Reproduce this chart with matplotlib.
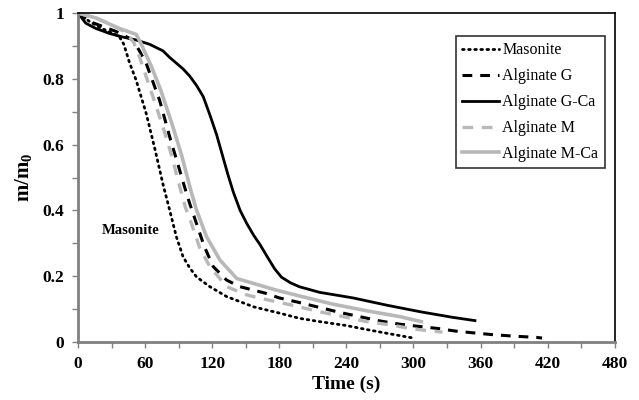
import matplotlib
matplotlib.use("Agg")
import matplotlib.pyplot as plt

# Mass loss curves m/m0 versus time (s)
masonite_t = [0, 10, 20, 30, 37, 41, 46, 52, 61, 69, 76, 82, 88, 94, 100, 106, 118, 133, 157, 180, 198, 216, 240, 258, 277, 290, 300]
masonite_v = [1.0, 0.975, 0.955, 0.94, 0.928, 0.905, 0.85, 0.796, 0.695, 0.584, 0.48, 0.401, 0.32, 0.259, 0.225, 0.198, 0.168, 0.138, 0.107, 0.088, 0.072, 0.062, 0.05, 0.038, 0.026, 0.018, 0.012]

alg_g_t = [0, 10, 19, 34, 49, 55, 61, 73, 82, 90, 95, 100, 107, 113, 121, 133, 145, 168, 180, 198, 216, 234, 252, 270, 288, 306, 322, 338, 356, 372, 389, 410, 415]
alg_g_v = [1.0, 0.975, 0.963, 0.944, 0.918, 0.885, 0.847, 0.735, 0.624, 0.533, 0.475, 0.42, 0.35, 0.29, 0.229, 0.188, 0.168, 0.148, 0.134, 0.12, 0.105, 0.09, 0.077, 0.064, 0.054, 0.047, 0.041, 0.033, 0.027, 0.022, 0.018, 0.014, 0.012]

alg_gca_t = [0, 7, 16, 28, 40, 52, 64, 76, 82, 94, 100, 106, 112, 118, 124, 129, 134, 139, 145, 151, 157, 163, 170, 176, 182, 190, 198, 216, 246, 276, 306, 335, 355]
alg_gca_v = [1.0, 0.969, 0.953, 0.938, 0.927, 0.918, 0.905, 0.885, 0.865, 0.83, 0.808, 0.78, 0.746, 0.69, 0.63, 0.57, 0.51, 0.455, 0.40, 0.36, 0.325, 0.295, 0.255, 0.222, 0.197, 0.18, 0.168, 0.151, 0.134, 0.112, 0.092, 0.075, 0.065]

alg_m_t = [0, 16, 30, 43, 50, 55, 67, 76, 84, 91, 96, 100, 105, 109, 118, 133, 151, 163, 190, 216, 240, 258, 279, 301, 323, 326]
alg_m_v = [1.0, 0.985, 0.965, 0.94, 0.91, 0.867, 0.746, 0.654, 0.564, 0.472, 0.41, 0.375, 0.325, 0.285, 0.229, 0.168, 0.143, 0.133, 0.113, 0.092, 0.075, 0.062, 0.052, 0.039, 0.031, 0.03]

alg_mca_t = [0, 16, 37, 52, 56, 60, 66, 74, 84, 93, 100, 106, 115, 127, 142, 157, 177, 198, 216, 228, 258, 288, 307]
alg_mca_v = [1.0, 0.985, 0.953, 0.935, 0.91, 0.88, 0.835, 0.766, 0.664, 0.564, 0.472, 0.401, 0.32, 0.249, 0.193, 0.178, 0.158, 0.14, 0.125, 0.115, 0.095, 0.077, 0.062]

x_ticks = [0, 60, 120, 180, 240, 300, 360, 420, 480]
y_ticks = [0, 0.2, 0.4, 0.6, 0.8, 1]
y_tick_labels = ["0", "0.2", "0.4", "0.6", "0.8", "1"]

serif = ["Liberation Serif", "DejaVu Serif"]
plt.rcParams["font.family"] = serif
plt.rcParams["mathtext.fontset"] = "custom"
plt.rcParams["mathtext.rm"] = "Liberation Serif"
plt.rcParams["mathtext.bf"] = "Liberation Serif:bold"

fig = plt.figure(figsize=(6.39, 4.0), dpi=100)
ax = fig.add_axes([0.122, 0.145, 0.840, 0.8225])

gray = "#b8b8b8"
ax.plot(masonite_t, masonite_v, color="black", lw=2.0, linestyle=(0, (0.6, 1.6)),
        dash_capstyle="round", label="Masonite")
ax.plot(alg_g_t, alg_g_v, color="black", lw=2.2, linestyle=(0, (3.2, 2.6)), label="Alginate G")
ax.plot(alg_gca_t, alg_gca_v, color="black", lw=2.0, label="Alginate G-Ca")
ax.plot(alg_m_t, alg_m_v, color=gray, lw=2.4, linestyle=(0, (3.2, 2.6)), label="Alginate M")
ax.plot(alg_mca_t, alg_mca_v, color=gray, lw=2.6, label="Alginate M-Ca")

ax.text(47, 0.34, "Masonite", fontsize=10.5, fontweight="bold", ha="center", va="center")

ax.set_xlim(0, 480)
ax.set_ylim(0, 1)
ax.set_xticks(x_ticks)
ax.set_xticks(range(30, 480, 60), minor=True)
ax.set_yticks(y_ticks)
ax.set_yticklabels(y_tick_labels)
ax.set_yticks([0.1, 0.3, 0.5, 0.7, 0.9], minor=True)

for lab in ax.get_xticklabels() + ax.get_yticklabels():
    lab.set_fontweight("bold")
    lab.set_fontsize(12.5)

ax.tick_params(axis="both", which="both", direction="out", color="#808080", width=1.0)
ax.tick_params(axis="both", which="major", length=4, pad=6)
ax.tick_params(axis="both", which="minor", length=4)

for side in ("left", "bottom"):
    ax.spines[side].set_color("#808080")
    ax.spines[side].set_linewidth(2.0)
for side in ("top", "right"):
    ax.spines[side].set_color("black")
    ax.spines[side].set_linewidth(1.2)

ax.set_xlabel("Time (s)", fontsize=14, fontweight="bold", labelpad=3)
ax.set_ylabel(r"$\mathbf{m/m_0}$", fontsize=15, labelpad=6)

leg = ax.legend(loc="upper right", bbox_to_anchor=(0.981, 0.930), borderaxespad=0,
                fontsize=11.5, frameon=True, fancybox=False, edgecolor="black",
                handlelength=2.3, handletextpad=0.2, labelspacing=0.62,
                borderpad=0.4)
leg.get_frame().set_linewidth(1.2)

fig.savefig("out.png", dpi=100)
